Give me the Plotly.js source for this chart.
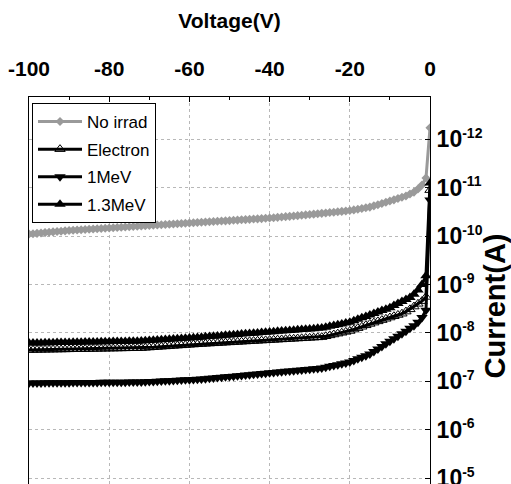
<!DOCTYPE html>
<html>
<head>
<meta charset="utf-8">
<script src="https://cdn.plot.ly/plotly-3.0.1.min.js"></script>
<style>
  html, body { margin: 0; padding: 0; overflow: hidden; background: #fff; }
  #chart { width: 511px; height: 515px; }
</style>
</head>
<body>
<div id="chart"></div>
<script>
// Voltage (V)
const voltage = [
  -100, -99, -98, -97, -96, -95, -94, -93, -92, -91,
  -90, -89, -88, -87, -86, -85, -84, -83, -82, -81,
  -80, -79, -78, -77, -76, -75, -74, -73, -72, -71,
  -70, -69, -68, -67, -66, -65, -64, -63, -62, -61,
  -60, -59, -58, -57, -56, -55, -54, -53, -52, -51,
  -50, -49, -48, -47, -46, -45, -44, -43, -42, -41,
  -40, -39, -38, -37, -36, -35, -34, -33, -32, -31,
  -30, -29, -28, -27, -26, -25, -24, -23, -22, -21,
  -20, -19, -18, -17, -16, -15, -14, -13, -12, -11,
  -10, -9, -8, -7, -6, -5, -4, -3, -2, -1,
  0
];

// No irrad current, in pA
const noIrrad_pA = [
  90.6, 89.0, 87.5, 86.0, 84.6, 83.2, 81.8, 80.4, 79.0, 77.8,
  76.5, 75.6, 74.7, 73.8, 72.9, 72.0, 71.2, 70.4, 69.6, 68.8,
  68.0, 67.2, 66.4, 65.6, 64.8, 64.0, 63.3, 62.5, 61.8, 61.1,
  60.4, 59.7, 59.0, 58.3, 57.6, 56.9, 56.2, 55.5, 54.9, 54.2,
  53.6, 53.0, 52.4, 51.8, 51.2, 50.6, 50.0, 49.4, 48.8, 48.3,
  47.7, 47.1, 46.6, 46.0, 45.5, 45.0, 44.4, 43.9, 43.4, 42.8,
  42.3, 41.6, 40.9, 40.3, 39.6, 39.0, 38.3, 37.7, 37.0, 36.4,
  35.8, 35.1, 34.5, 33.8, 33.2, 32.6, 32.0, 31.4, 30.8, 30.2,
  29.6, 28.7, 27.8, 26.9, 26.0, 25.1, 23.7, 22.4, 21.2, 20.0,
  18.8, 17.8, 16.7, 15.7, 14.8, 13.5, 12.3, 10.6, 8.8, 6.3,
  0.58
];

// Electron current, in nA
const electron_nA = [
  22.50, 22.43, 22.36, 22.29, 22.21, 22.14, 22.07, 22.00, 21.93, 21.86,
  21.79, 21.71, 21.64, 21.57, 21.50, 21.43, 21.36, 21.29, 21.21, 21.14,
  21.07, 21.00, 20.93, 20.86, 20.79, 20.71, 20.64, 20.57, 20.50, 20.24,
  19.98, 19.72, 19.47, 19.22, 18.97, 18.73, 18.49, 18.25, 18.02, 17.79,
  17.56, 17.34, 17.12, 16.90, 16.72, 16.54, 16.36, 16.18, 16.01, 15.83,
  15.66, 15.49, 15.33, 15.16, 15.00, 14.84, 14.68, 14.52, 14.36, 14.21,
  14.05, 13.90, 13.75, 13.60, 13.46, 13.31, 13.17, 13.03, 12.89, 12.75,
  12.61, 12.47, 12.34, 12.20, 11.70, 11.22, 10.76, 10.32, 9.90, 9.49,
  9.10, 8.51, 7.95, 7.44, 6.95, 6.50, 6.12, 5.76, 5.42, 5.10,
  4.80, 4.51, 4.25, 4.00, 3.62, 3.25, 2.85, 2.50, 2.20, 1.80,
  0.0112
];

// 1MeV current, in nA
const mev1_nA = [
  108.0, 107.8, 107.6, 107.5, 107.3, 107.1, 106.9, 106.7, 106.6, 106.4,
  106.2, 106.0, 105.9, 105.7, 105.5, 105.3, 105.2, 105.0, 104.8, 104.6,
  104.4, 104.3, 104.1, 103.9, 103.7, 103.6, 103.4, 103.2, 103.0, 102.0,
  101.1, 100.2, 99.2, 98.3, 97.4, 96.5, 95.6, 94.7, 93.8, 92.9,
  92.1, 91.2, 90.4, 89.5, 88.0, 86.4, 84.9, 83.5, 82.0, 80.6,
  79.2, 77.9, 76.5, 75.2, 73.9, 72.6, 71.4, 70.1, 68.9, 67.7,
  66.6, 65.4, 64.3, 63.2, 62.1, 61.0, 60.0, 58.9, 57.9, 56.9,
  55.9, 55.0, 54.0, 53.1, 51.0, 48.9, 47.0, 45.1, 43.3, 41.6,
  39.9, 37.0, 34.2, 31.7, 29.4, 27.2, 24.1, 21.4, 19.0, 16.8,
  14.9, 13.2, 11.7, 10.4, 9.2, 8.0, 7.1, 6.0, 4.8, 3.4,
  0.018
];

// 1.3MeV current, in nA
const mev13_nA = [
  16.20, 16.15, 16.09, 16.04, 15.98, 15.93, 15.87, 15.82, 15.77, 15.71,
  15.66, 15.61, 15.55, 15.50, 15.45, 15.40, 15.34, 15.29, 15.24, 15.19,
  15.14, 15.09, 15.03, 14.98, 14.93, 14.88, 14.83, 14.78, 14.70, 14.52,
  14.34, 14.16, 13.99, 13.81, 13.64, 13.47, 13.31, 13.14, 12.98, 12.82,
  12.66, 12.51, 12.35, 12.20, 12.02, 11.85, 11.68, 11.51, 11.35, 11.18,
  11.02, 10.87, 10.71, 10.56, 10.41, 10.26, 10.11, 9.97, 9.82, 9.68,
  9.54, 9.41, 9.27, 9.14, 9.01, 8.88, 8.75, 8.62, 8.50, 8.38,
  8.26, 8.14, 8.02, 7.90, 7.60, 7.30, 7.02, 6.75, 6.49, 6.24,
  6.00, 5.60, 5.22, 4.87, 4.55, 4.24, 3.96, 3.69, 3.45, 3.22,
  3.00, 2.72, 2.47, 2.25, 2.04, 1.85, 1.58, 1.30, 1.00, 0.66,
  0.008
];

const seriesNames = ["No irrad", "Electron", "1MeV", "1.3MeV"];

const xTickVals = [-100, -80, -60, -40, -20, 0];
const xTickText = ["-100", "-80", "-60", "-40", "-20", "0"];
const yTickVals = [1e-12, 1e-11, 1e-10, 1e-9, 1e-8, 1e-7, 1e-6, 1e-5];
const yTickExp = ["-12", "-11", "-10", "-9", "-8", "-7", "-6", "-5"];

const toA = (arr, unit) => arr.map(v => v * unit);
const yTickText = yTickExp.map(e => "10<sup><span style='font-size:14px'>" + e + "</span></sup>");

const FONT = "Liberation Sans, Arial, sans-serif";

const traces = [
  {
    x: voltage, y: toA(noIrrad_pA, 1e-12), name: seriesNames[0], legendgroup: "g0",
    mode: "lines+markers",
    line: { color: "#9a9a9a", width: 3 },
    marker: { symbol: "diamond", size: 7, color: "#9a9a9a" }
  },
  {
    x: voltage, y: toA(electron_nA, 1e-9), name: seriesNames[1], legendgroup: "g1",
    mode: "lines+markers",
    line: { color: "#000", width: 3 },
    marker: { symbol: "triangle-up-open", size: 9, color: "#000", line: { width: 1 } }
  },
  {
    x: voltage, y: toA(mev1_nA, 1e-9), name: seriesNames[2], legendgroup: "g2",
    mode: "lines+markers",
    line: { color: "#000", width: 3 },
    marker: { symbol: "triangle-down", size: 10, color: "#000" }
  },
  {
    x: voltage, y: toA(mev13_nA, 1e-9), name: seriesNames[3], legendgroup: "g3",
    mode: "lines+markers",
    line: { color: "#000", width: 3 },
    marker: { symbol: "triangle-up", size: 10, color: "#000" }
  }
];

const layout = {
  width: 511, height: 515,
  margin: { l: 29, r: 81, t: 97, b: 0, pad: 0 },
  paper_bgcolor: "#fff", plot_bgcolor: "#fff",
  font: { family: FONT, color: "#000" },
  showlegend: true,
  legend: {
    x: 0.0075, y: 0.9856, xanchor: "left", yanchor: "top",
    bgcolor: "#fff", bordercolor: "#000", borderwidth: 1,
    font: { family: FONT, size: 17, color: "#000" },
    traceorder: "grouped",
    tracegroupgap: 2.5,
    itemwidth: 44,
    itemsizing: "trace"
  },
  xaxis: {
    side: "top",
    range: [-100, 0],
    autorange: false,
    tickvals: xTickVals, ticktext: xTickText,
    ticks: "inside", ticklen: 5, tickcolor: "#000",
    minor: { dtick: 10, ticks: "inside", ticklen: 3, tickcolor: "#000", showgrid: false },
    tickfont: { family: FONT, size: 21, weight: 700, color: "#000" },
    ticklabelstandoff: 12,
    showline: true, mirror: true, linecolor: "#000", linewidth: 1,
    showgrid: true, gridcolor: "#b8b8b8", griddash: "dot", gridwidth: 1,
    zeroline: false,
    automargin: false,
    title: { text: "Voltage(V)", font: { family: FONT, size: 21, weight: 700, color: "#000" }, standoff: 22 }
  },
  yaxis: {
    side: "right",
    type: "log",
    range: [-4.24, -12.874],
    autorange: false,
    tickvals: yTickVals, ticktext: yTickText,
    ticks: "inside", ticklen: 5, tickcolor: "#000",
    tickfont: { family: FONT, size: 23, weight: 700, color: "#000" },
    ticklabelstandoff: 1,
    showline: true, mirror: true, linecolor: "#000", linewidth: 1,
    showgrid: true, gridcolor: "#b8b8b8", griddash: "dot", gridwidth: 1,
    zeroline: false,
    automargin: false,
    title: { text: "Current(A)", font: { family: FONT, size: 29, weight: 700, color: "#000" }, standoff: 5 }
  }
};

Plotly.newPlot("chart", traces, layout, { displayModeBar: false, staticPlot: true });
</script>
</body>
</html>
